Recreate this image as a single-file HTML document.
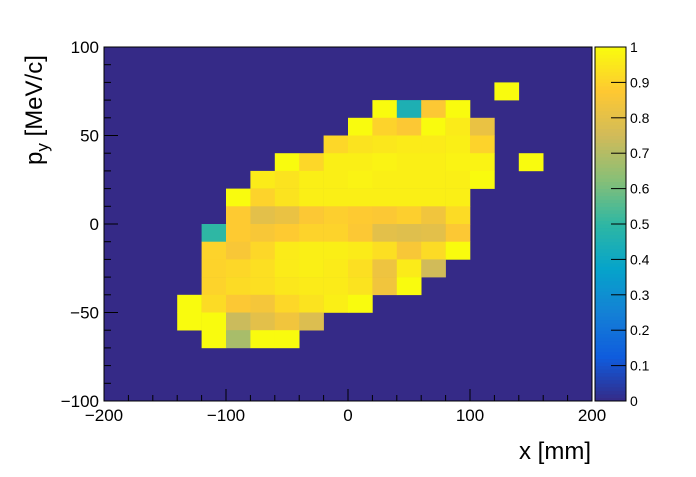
<!DOCTYPE html>
<html><head><meta charset="utf-8"><style>
body{margin:0;background:#fff}
svg text{font-family:"Liberation Sans",sans-serif;fill:#000}
</style></head><body>
<svg id="c" width="696" height="472" xmlns="http://www.w3.org/2000/svg">
<g id="cells"></g>
<g id="axes"></g>
<g id="pal"></g>
<text x="591" y="459" font-size="24" text-anchor="end">x [mm]</text>
<text transform="translate(42,165) rotate(-90)" font-size="24">p<tspan font-size="17" dy="6">y</tspan><tspan dy="-6"> [MeV/c]</tspan></text>
</svg>
<script>
const xEdges=[-200,200], yRange=[-100,100];
const nx=20, ny=20;
// rows: [y bin index from top (0 = 90..100), x bin start index, values...]
const row2=[2,16,1];
const row3=[3,11,1,0.45,0.87,1];
const row4=[4,10,1,0.9,0.87,1,0.96,0.82];
const row5=[5,9,0.91,0.94,0.95,0.96,0.96,0.97,0.9];
const row6=[6,7,1,0.91,0.97,0.97,0.98,0.97,0.97,0.98,0.98,0,1];
const row7=[7,6,0.96,0.94,0.97,0.97,0.98,0.97,0.97,0.97,0.97,1];
const row8=[8,5,1,0.9,0.94,0.97,0.97,0.97,0.97,0.97,0.97,0.97];
const row9=[9,5,0.88,0.8,0.82,0.87,0.89,0.88,0.87,0.89,0.84,0.92];
const row10=[10,4,0.5,0.88,0.86,0.88,0.9,0.9,0.87,0.8,0.79,0.8,0.87];
const row11=[11,4,0.9,0.86,0.91,0.96,0.97,0.97,0.96,0.93,0.86,0.92,1];
const row12=[12,4,0.9,0.91,0.93,0.96,0.97,0.96,0.93,0.83,0.96,0.75];
const row13=[13,4,0.9,0.92,0.93,0.95,0.96,0.96,0.94,0.84,1];
const row14=[14,3,1,0.92,0.87,0.85,0.91,0.94,0.97,1];
const row15=[15,3,1,1,0.74,0.8,0.84,0.78];
const row16=[16,4,1,0.68,1,1];
const rows=[row2,row3,row4,row5,row6,row7,row8,row9,row10,row11,row12,row13,row14,row15,row16];
const xTicks=[-200,-100,0,100,200], xTickLabels=["\u2212200","\u2212100","0","100","200"];
const yTicks=[-100,-50,0,50,100], yTickLabels=["\u2212100","\u221250","0","50","100"];
const zTicks=[0,0.1,0.2,0.3,0.4,0.5,0.6,0.7,0.8,0.9,1], zTickLabels=["0","0.1","0.2","0.3","0.4","0.5","0.6","0.7","0.8","0.9","1"];

const L=104,R=592,T=47,B=401;
const sx=v=>L+(v-xEdges[0])/(xEdges[1]-xEdges[0])*(R-L);
const sy=v=>B-(v-yRange[0])/(yRange[1]-yRange[0])*(B-T);
const st=[0,.125,.25,.375,.5,.625,.75,.875,1];
const rr=[0.2082,0.0592,0.0780,0.0232,0.1802,0.5301,0.8186,0.9956,0.9764];
const gg=[0.1664,0.3599,0.5041,0.6419,0.7178,0.7492,0.7328,0.7862,0.9832];
const bb=[0.5293,0.8684,0.8385,0.7914,0.6425,0.4662,0.3499,0.1968,0.0539];
function col(v){v=Math.max(0,Math.min(1,v));let i=Math.min(7,Math.floor(v/0.125));const f=(v-st[i])/0.125;
 const c=a=>Math.round(255*(a[i]+(a[i+1]-a[i])*f));return `rgb(${c(rr)},${c(gg)},${c(bb)})`;}
const NS="http://www.w3.org/2000/svg";
function mk(p,tag,at){const e=document.createElementNS(NS,tag);for(const k in at)e.setAttribute(k,at[k]);p.appendChild(e);return e;}
const cells=document.getElementById('cells'), axes=document.getElementById('axes'), pal=document.getElementById('pal');
const bg=mk(cells,'rect',{x:L,y:T,width:R-L,height:B-T,fill:col(0)});


const dx=(xEdges[1]-xEdges[0])/nx, dy=(yRange[1]-yRange[0])/ny;
rows.forEach(rw=>{const r=rw[0],c0=rw[1];for(let k=2;k<rw.length;k++){const v=rw[k];if(!v)continue;
 const x0=xEdges[0]+(c0+k-2)*dx, y1=yRange[1]-r*dy;
 const e=mk(cells,'rect',{x:sx(x0),y:sy(y1),width:sx(x0+dx)-sx(x0)+0.3,height:sy(y1-dy)-sy(y1)+0.3,fill:col(v)});
 
 }});
const fr=mk(axes,'rect',{x:L,y:T,width:R-L,height:B-T,fill:'none',stroke:'#000','stroke-width':1});


for(let v=-200;v<=200;v+=20){const X=sx(v),big=v%100===0;mk(axes,'line',{x1:X,x2:X,y1:B,y2:B-(big?12:6),stroke:'#000'});}
for(let v=-100;v<=100;v+=10){const Y=sy(v),big=v%50===0;mk(axes,'line',{x1:L,x2:L+(big?14:7),y1:Y,y2:Y,stroke:'#000'});}
xTicks.forEach((v,i)=>{const t=mk(axes,'text',{x:sx(v),y:B+20,'font-size':17,'text-anchor':'middle'});t.textContent=xTickLabels[i];
 
 });
yTicks.forEach((v,i)=>{const t=mk(axes,'text',{x:L-5,y:sy(v)+6,'font-size':17,'text-anchor':'end'});t.textContent=yTickLabels[i];
 
 });
// palette
const PL=595,PR=626;
const pz=v=>B-v*(B-T);
for(let i=0;i<100;i++){const v0=i/100;mk(pal,'rect',{x:PL,y:pz(v0+0.01),width:PR-PL,height:(B-T)/100+0.5,fill:col(v0+0.005)});}
mk(pal,'rect',{x:PL,y:T,width:PR-PL,height:B-T,fill:'none',stroke:'#000'});
zTicks.forEach((v,i)=>{mk(pal,'line',{x1:PR-15,x2:PR,y1:pz(v),y2:pz(v),stroke:'#000'});
 const t=mk(pal,'text',{x:PR+4,y:pz(v)+5,'font-size':14});t.textContent=zTickLabels[i];
 
 });
</script>
</body></html>
